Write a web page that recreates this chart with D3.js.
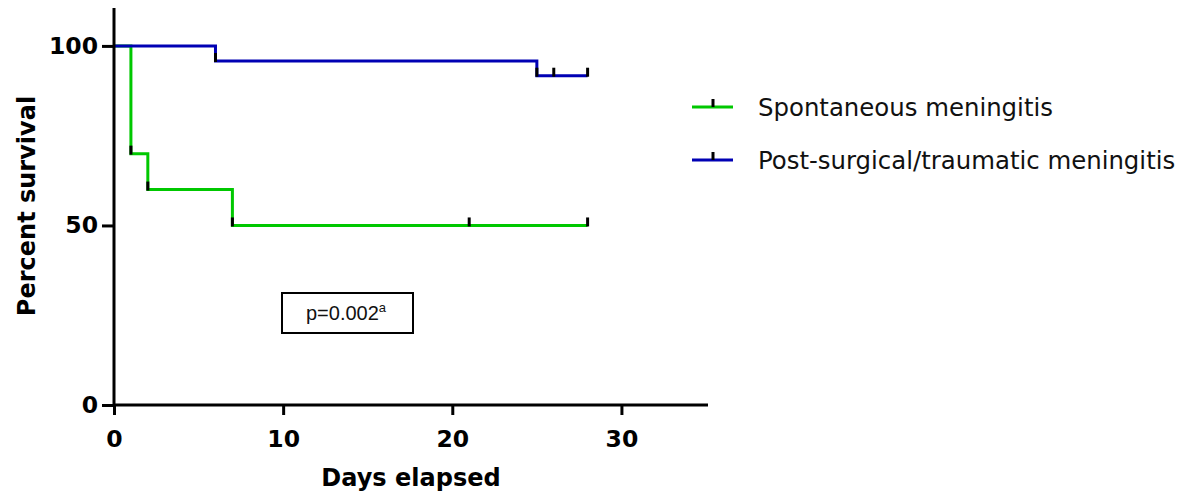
<!DOCTYPE html>
<html>
<head>
<meta charset="utf-8">
<script src="https://cdn.jsdelivr.net/npm/d3@7"></script>
<style>
  body { margin: 0; background: #fff; }
  svg { display: block; }
</style>
</head>
<body>
<svg width="1182" height="501"></svg>
<script>
// survival curves (Kaplan-Meier steps)
const spontDays = [0, 1, 2, 7, 28];
const spontSurv = [100, 70, 60, 50, 50];
const spontCensored = [21, 28];

const postDays = [0, 6, 25, 28];
const postSurv = [100, 95.8, 91.7, 91.7];
const postCensored = [26, 28];

const seriesNames = ["Spontaneous meningitis", "Post-surgical/traumatic meningitis"];
const seriesColors = ["#00c800", "#0000b4"];

const xTicks = [0, 10, 20, 30];
const yTicks = [0, 50, 100];

(function () {
  "use strict";
  const svg = d3.select("svg");
  const font = "DejaVu Sans";

  const x = d3.scaleLinear().domain([0, 35]).range([114, 706]);
  const y = d3.scaleLinear().domain([0, 110]).range([405, 10]);

  const series = [
    { name: seriesNames[0], color: seriesColors[0], days: spontDays, surv: spontSurv, cens: spontCensored },
    { name: seriesNames[1], color: seriesColors[1], days: postDays, surv: postSurv, cens: postCensored }
  ];

  // curves
  const line = d3.line()
    .x(d => x(d[0]))
    .y(d => y(d[1]))
    .curve(d3.curveStepAfter);

  series.forEach(s => {
    const pts = s.days.map((d, i) => [d, s.surv[i]]);
    svg.append("path")
      .attr("d", line(pts))
      .attr("fill", "none")
      .attr("stroke", s.color)
      .attr("stroke-width", 3);

    // black marks at drops and censored times
    const survAt = t => {
      let v = s.surv[0];
      s.days.forEach((d, i) => { if (d <= t) v = s.surv[i]; });
      return v;
    };
    const marks = s.days.slice(1, -1).concat(s.cens);
    svg.selectAll(null)
      .data(marks)
      .enter()
      .append("line")
      .attr("x1", d => x(d))
      .attr("x2", d => x(d))
      .attr("y1", d => y(survAt(d)) + 1)
      .attr("y2", d => y(survAt(d)) - 8)
      .attr("stroke", "#000")
      .attr("stroke-width", 3);
  });

  // axes
  const yAxis = svg.append("g")
    .attr("transform", `translate(${x(0)},0)`)
    .call(d3.axisLeft(y).tickValues(yTicks).tickSize(12).tickSizeOuter(0).tickPadding(4));
  const xAxis = svg.append("g")
    .attr("transform", `translate(0,${y(0)})`)
    .call(d3.axisBottom(x).tickValues(xTicks).tickSize(10).tickSizeOuter(0).tickPadding(15));

  [xAxis, yAxis].forEach(g => {
    g.select(".domain").attr("stroke", "#000").attr("stroke-width", 3);
    g.selectAll(".tick line").attr("stroke", "#000").attr("stroke-width", 3);
    g.selectAll(".tick text")
      .attr("fill", "#000")
      .style("font-family", font)
      .style("font-weight", "bold")
      .style("font-size", "23.5px");
  });
  xAxis.select(".domain").attr("d", `M${x(0)},0H708`);
  yAxis.select(".domain").attr("d", `M0,${y(0)}V8`);

  // axis titles
  svg.append("text")
    .attr("transform", "translate(35,206) rotate(-90)")
    .attr("text-anchor", "middle")
    .style("font-family", font)
    .style("font-weight", "bold")
    .style("font-size", "24px")
    .text("Percent survival");

  svg.append("text")
    .attr("x", 411)
    .attr("y", 486)
    .attr("text-anchor", "middle")
    .style("font-family", font)
    .style("font-weight", "bold")
    .style("font-size", "24px")
    .text("Days elapsed");

  // legend
  const legend = svg.append("g").attr("transform", "translate(692,107)");
  series.forEach((s, i) => {
    const g = legend.append("g").attr("transform", `translate(0,${i * 53})`);
    g.append("line")
      .attr("x1", 0).attr("x2", 41)
      .attr("stroke", s.color).attr("stroke-width", 3);
    g.append("line")
      .attr("x1", 21).attr("x2", 21)
      .attr("y1", 0).attr("y2", -8)
      .attr("stroke", "#000").attr("stroke-width", 3);
    g.append("text")
      .attr("x", 66)
      .attr("y", 9)
      .style("font-family", font)
      .style("font-size", "24.4px")
      .attr("fill", "#111")
      .text(s.name);
  });

  // p value box
  svg.append("rect")
    .attr("x", 282).attr("y", 293)
    .attr("width", 131).attr("height", 40)
    .attr("fill", "none")
    .attr("stroke", "#000")
    .attr("stroke-width", 2);
  const pt = svg.append("text")
    .attr("x", 346)
    .attr("y", 320)
    .attr("text-anchor", "middle")
    .style("font-family", "Liberation Sans")
    .style("font-size", "20px")
    .attr("fill", "#111");
  pt.append("tspan").text("p=0.002");
  pt.append("tspan").attr("dy", -8).style("font-size", "13px").text("a");
})(d3);
</script>
</body>
</html>
